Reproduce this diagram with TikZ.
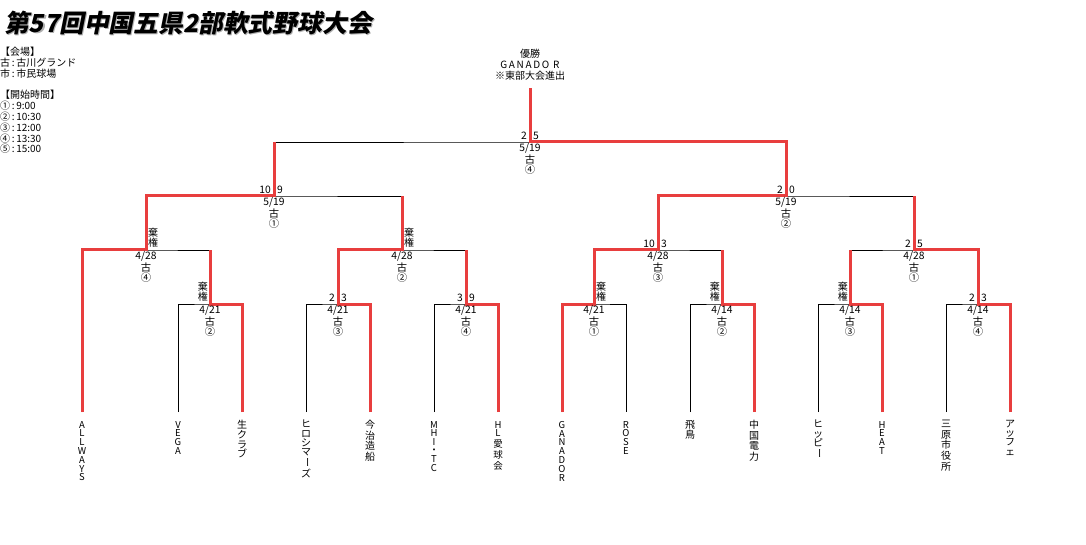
\documentclass[tikz,border=0pt]{standalone}
\usepackage{fontspec}
\setmainfont{Noto Sans CJK JP}
\definecolor{winred}{RGB}{232,62,62}
\definecolor{shadowgray}{RGB}{175,175,175}
\newcommand\mlabel[3]{%
  \node[lbl] (#1d) at ([yshift=-6.5pt]#1) {#2};
  \node[lbl] (#1v) at ([yshift=-17.5pt]#1) {古};
  \node[lbl] (#1c) at ([yshift=-28pt]#1) {#3};}
\newcommand\mscore[3]{%
  \node[lbl,anchor=east] (#1sl) at ([xshift=-3pt,yshift=6.5pt]#1) {#2};
  \node[lbl,anchor=west] (#1sr) at ([xshift=3pt,yshift=6.5pt]#1) {#3};}
\newcommand\kikenL[1]{%
  \node[kiken,anchor=east] (#1k) at ([xshift=-2pt,yshift=12pt]#1) {棄\\権};}
\newcommand\kikenR[1]{%
  \node[kiken,anchor=west] (#1k) at ([xshift=2pt,yshift=12pt]#1) {棄\\権};}
\newcommand\vbar{\rotatebox[origin=c]{-90}{ー}}
\begin{document}
\begin{tikzpicture}[x=1pt,y=-1pt,
  br/.style={line width=0.8pt,black},
  win/.style={line width=3pt,winred,line join=miter},
  lbl/.style={font=\fontsize{10.3}{10}\selectfont,inner sep=0pt},
  kiken/.style={font=\fontsize{10}{10}\selectfont,inner sep=0pt,align=center},
  leafL/.style={font=\fontsize{9.5}{8.8}\selectfont,inner sep=0pt,align=center,anchor=north},
  leafK/.style={font=\fontsize{10}{9.2}\selectfont,inner sep=0pt,align=center,anchor=north},
  leafJ/.style={font=\fontsize{10}{10.6}\selectfont,inner sep=0pt,align=center,anchor=north}]
\useasboundingbox[fill=white] (0,0) rectangle (1086,545);
% title
\node[anchor=west,inner sep=0pt,text=shadowgray,font=\fontsize{24.8}{26}\selectfont\bfseries\addfontfeature{FakeSlant=0.2}] (titleshadow) at (5,24) {第57回中国五県2部軟式野球大会};
\node[anchor=west,inner sep=0pt,font=\fontsize{24.8}{26}\selectfont\bfseries\addfontfeature{FakeSlant=0.2}] (title) at (4,23) {第57回中国五県2部軟式野球大会};
% legend
\node[anchor=north west,inner sep=0pt,align=left,font=\fontsize{10}{10.8}\selectfont] (legend) at (0,47) {【会場】\\古\,:\,古川グランド\\市\,:\,市民球場\\[10.8pt]【開始時間】\\①\,:\,9:00\\②\,:\,10:30\\③\,:\,12:00\\④\,:\,13:30\\⑤\,:\,15:00};
% champion
\node[anchor=north,inner sep=0pt,align=center,font=\fontsize{10}{11}\selectfont] (champ) at (530,48.5) {優勝\\G\,A\,N\,A\,D\,O\, R\\※東部大会進出};
% coordinates
\foreach \i/\x in {1/82,2/178,3/242,4/306,5/370,6/434,7/498,8/562,9/626,10/690,11/754,12/818,13/882,14/946,15/1010}
  \coordinate (L\i) at (\x,412);
\coordinate (M1) at (210,304); \coordinate (M2) at (338,304);
\coordinate (M3) at (466,304); \coordinate (M4) at (594,304);
\coordinate (M5) at (722,304); \coordinate (M6) at (850,304);
\coordinate (M7) at (978,304);
\coordinate (Q1) at (146,250); \coordinate (Q2) at (402,250);
\coordinate (Q3) at (658,250); \coordinate (Q4) at (914,250);
\coordinate (S1) at (274,196); \coordinate (S2) at (786,196);
\coordinate (F) at (530,142); \coordinate (T) at (530,88);
% black bracket
\draw[br] (L2) |- (M1) -| (L3);
\draw[br] (L4) |- (M2) -| (L5);
\draw[br] (L6) |- (M3) -| (L7);
\draw[br] (L8) |- (M4) -| (L9);
\draw[br] (L10) |- (M5) -| (L11);
\draw[br] (L12) |- (M6) -| (L13);
\draw[br] (L14) |- (M7) -| (L15);
\draw[br] (L1) |- (Q1) -| (M1);
\draw[br] (M2) |- (Q2) -| (M3);
\draw[br] (M4) |- (Q3) -| (M5);
\draw[br] (M6) |- (Q4) -| (M7);
\draw[br] (Q1) |- (S1) -| (Q2);
\draw[br] (Q3) |- (S2) -| (Q4);
\draw[br] (S1) |- (F) -| (S2);
\draw[br] (F) -- (T);
% winners
\draw[win] (L3) |- (M1) -- (M1 |- Q1);
\draw[win] (L1) |- (Q1) |- (S1) -- (S1 |- F);
\draw[win] (L5) |- (M2) |- (Q2) -- (Q2 |- S1);
\draw[win] (L7) |- (M3) -- (M3 |- Q2);
\draw[win] (L8) |- (M4) |- (Q3) |- (S2) |- (F) -- (T);
\draw[win] (L11) |- (M5) -- (M5 |- Q3);
\draw[win] (L13) |- (M6) -- (M6 |- Q4);
\draw[win] (L15) |- (M7) |- (Q4) -- (Q4 |- S2);
% match labels
\mlabel{M1}{4/21}{②} \kikenL{M1}
\mlabel{M2}{4/21}{③} \mscore{M2}{2}{3}
\mlabel{M3}{4/21}{④} \mscore{M3}{3}{9}
\mlabel{M4}{4/21}{①} \kikenR{M4}
\mlabel{M5}{4/14}{②} \kikenL{M5}
\mlabel{M6}{4/14}{③} \kikenL{M6}
\mlabel{M7}{4/14}{④} \mscore{M7}{2}{3}
\mlabel{Q1}{4/28}{④} \kikenR{Q1}
\mlabel{Q2}{4/28}{②} \kikenR{Q2}
\mlabel{Q3}{4/28}{③} \mscore{Q3}{10}{3}
\mlabel{Q4}{4/28}{①} \mscore{Q4}{2}{5}
\mlabel{S1}{5/19}{①} \mscore{S1}{10}{9}
\mlabel{S2}{5/19}{②} \mscore{S2}{2}{0}
\mlabel{F}{5/19}{④} \mscore{F}{2}{5}
% team names
\node[leafL] (t1) at ([yshift=-9pt]L1) {A\\L\\L\\W\\A\\Y\\S};
\node[leafL] (t2) at ([yshift=-9pt]L2) {V\\E\\G\\A};
\node[leafK] (t3) at ([yshift=-8pt]L3) {生\\[1pt]ク\\ラ\\ブ};
\node[leafK] (t4) at ([yshift=-8pt]L4) {ヒ\\ロ\\シ\\マ\\\vbar\\ズ};
\node[leafJ] (t5) at ([yshift=-8pt]L5) {今\\治\\造\\船};
\node[leafL] (t6) at ([yshift=-9pt]L6) {M\\H\\I\\[-1pt]・\\T\\C};
\node[leafL] (t7) at ([yshift=-9pt]L7) {H\\L\\[2pt]愛\\[2pt]球\\[2pt]会};
\node[leafL] (t8) at ([yshift=-9pt]L8) {G\\A\\N\\A\\D\\O\\R};
\node[leafL] (t9) at ([yshift=-9pt]L9) {R\\O\\S\\E};
\node[leafJ] (t10) at ([yshift=-8pt]L10) {飛\\鳥};
\node[leafJ] (t11) at ([yshift=-8pt]L11) {中\\国\\電\\力};
\node[leafK] (t12) at ([yshift=-8pt]L12) {ヒ\\ッ\\ピ\\\vbar};
\node[leafL] (t13) at ([yshift=-9pt]L13) {H\\E\\A\\T};
\node[leafJ] (t14) at ([yshift=-8pt]L14) {三\\原\\市\\役\\所};
\node[leafK] (t15) at ([yshift=-8pt]L15) {ア\\ッ\\フ\\ェ};
\end{tikzpicture}
\end{document}
